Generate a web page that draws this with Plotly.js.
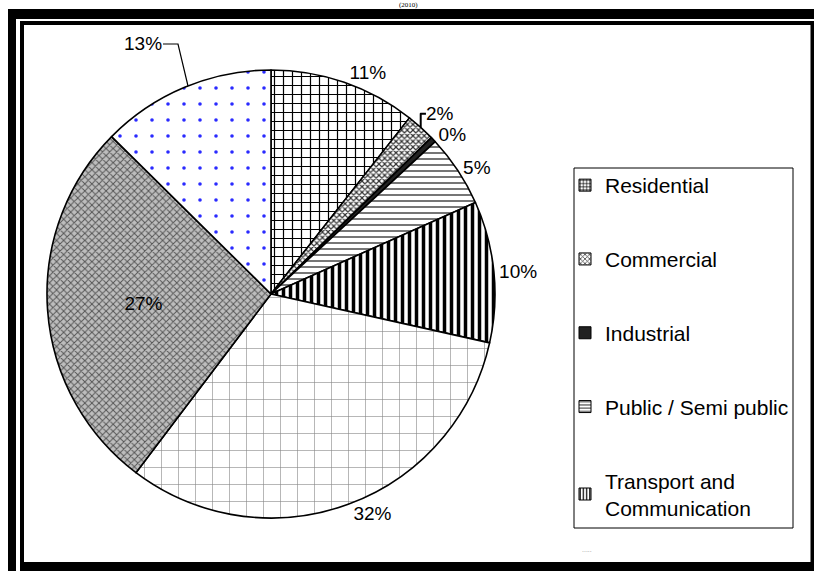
<!DOCTYPE html>
<html><head><meta charset="utf-8">
<script src="https://cdn.plot.ly/plotly-3.0.1.min.js"></script>
<style>html,body{margin:0;padding:0;overflow:hidden;background:#fff}</style>
</head><body><div id="chart" style="width:814px;height:571px"></div>
<script>
// ---- data ----
const categories = ["Residential", "Commercial", "Industrial", "Public / Semi public",
  "Transport and Communication", "Other 1", "Other 2", "Other 3"];
const shares = [10.6, 2.1, 0.4, 5.2, 10.2, 31.8, 27.1, 12.6];
const legendLabels = ["Residential", "Commercial", "Industrial", "Public / Semi public",
  "Transport and<br>Communication"];
const yearLabel = "(2010)";

// ---- styles ----
const patShape = ['+', 'x', '', '-', '|', '+', 'x', '.'];
const patFg = ['#000', '#333', '#000', '#666', '#000', '#888', '#555', '#2a2aff'];
const patBg = ['#fff', '#fff', '#222', '#fff', '#fff', '#fff', '#bdbdbd', '#fff'];
const patSize = [9, 4, 8, 6, 7, 17, 5, 16];
const patSolid = [0.25, 0.5, 0.3, 0.3, 0.5, 0.07, 0.35, 0.04];
const sliceColors = ['#fff', '#fff', '#222', '#fff', '#fff', '#fff', '#bdbdbd', '#fff'];
const textPos = ['outside', 'outside', 'outside', 'outside', 'outside', 'outside', 'inside', 'none'];

const W = 814, H = 571;
const px = x => x / W, py = y => 1 - y / H;
const FONT = 'Liberation Sans, Arial, sans-serif';

const pie = {
  type: 'pie', labels: categories, values: shares, sort: false, direction: 'clockwise',
  rotation: 0, showlegend: false, hoverinfo: 'label+percent',
  texttemplate: '%{percent:.0%}', textposition: textPos,
  textfont: {family: FONT, size: 19, color: '#000'},
  insidetextfont: {family: FONT, size: 19, color: '#000'},
  outsidetextfont: {family: FONT, size: 19, color: '#000'},
  domain: {x: [px(271 - 224), px(271 + 224)], y: [1 - (294 + 224) / H, 1 - (294 - 224) / H]},
  marker: {
    colors: sliceColors,
    line: {color: '#000', width: 1.6},
    pattern: {shape: patShape, fgcolor: patFg, bgcolor: patBg, size: patSize, solidity: patSolid}
  }
};

// legend-only entries (first five categories)
const legendTraces = legendLabels.map((name, i) => ({
  type: 'bar', x: [null], y: [null], name: name, legendgroup: 'g' + i, showlegend: true,
  xaxis: 'x', yaxis: 'y', hoverinfo: 'skip',
  marker: {color: sliceColors[i], line: {color: '#000', width: 1},
    pattern: {shape: patShape[i], fgcolor: patFg[i], bgcolor: patBg[i], size: 4, solidity: 0.4}}
}));

const total = shares.reduce((a, b) => a + b, 0);
const lastPct = Math.round(shares[shares.length - 1] / total * 100) + '%';

function rect(x0, y0, x1, y1) {
  return {type: 'rect', xref: 'paper', yref: 'paper', x0: px(x0), x1: px(x1), y0: py(y1), y1: py(y0),
    fillcolor: '#000', line: {width: 0}, layer: 'above'};
}

const layout = {
  width: W, height: H, margin: {l: 0, r: 0, t: 0, b: 0},
  paper_bgcolor: '#fff', plot_bgcolor: '#fff',
  xaxis: {visible: false, domain: [0.995, 1]}, yaxis: {visible: false, domain: [0, 0.005]},
  showlegend: true,
  legend: {x: px(565), y: py(165), xanchor: 'left', yanchor: 'top',
    borderwidth: 0, bgcolor: 'rgba(0,0,0,0)',
    font: {family: FONT, size: 21, color: '#000'},
    traceorder: 'grouped', tracegroupgap: 43.5},
  shapes: [
    rect(8, 9, 16, 571), rect(8, 9, 814, 19),
    rect(20, 21, 24, 571), rect(20, 21, 814, 25),
    rect(810.5, 21, 814, 571), rect(20, 562, 814, 571),
    {type: 'rect', xref: 'paper', yref: 'paper', x0: px(574), x1: px(793), y0: py(528), y1: py(168),
      line: {color: '#000', width: 1}, fillcolor: 'rgba(0,0,0,0)', layer: 'below'},
    {type: 'path', xref: 'paper', yref: 'paper',
      path: `M${px(163)},${py(44)} L${px(178)},${py(44)} L${px(188)},${py(86)}`,
      line: {color: '#000', width: 1.2}}
  ],
  annotations: [
    {text: lastPct, xref: 'paper', yref: 'paper', x: px(143), y: py(44), xanchor: 'center', yanchor: 'middle',
      showarrow: false, font: {family: FONT, size: 19, color: '#000'}},
    {text: yearLabel, xref: 'paper', yref: 'paper', x: px(408), y: py(5), xanchor: 'center', yanchor: 'middle',
      borderpad: 0, showarrow: false,
      font: {family: 'Liberation Serif, Times New Roman, serif', size: 7, color: '#000'}},
    {text: '.....', xref: 'paper', yref: 'paper', x: px(587), y: py(549), xanchor: 'center', yanchor: 'middle',
      showarrow: false, font: {family: FONT, size: 7, color: '#999'}}
  ]
};

Plotly.newPlot('chart', [pie].concat(legendTraces), layout, {displayModeBar: false, staticPlot: true});
</script></body></html>
